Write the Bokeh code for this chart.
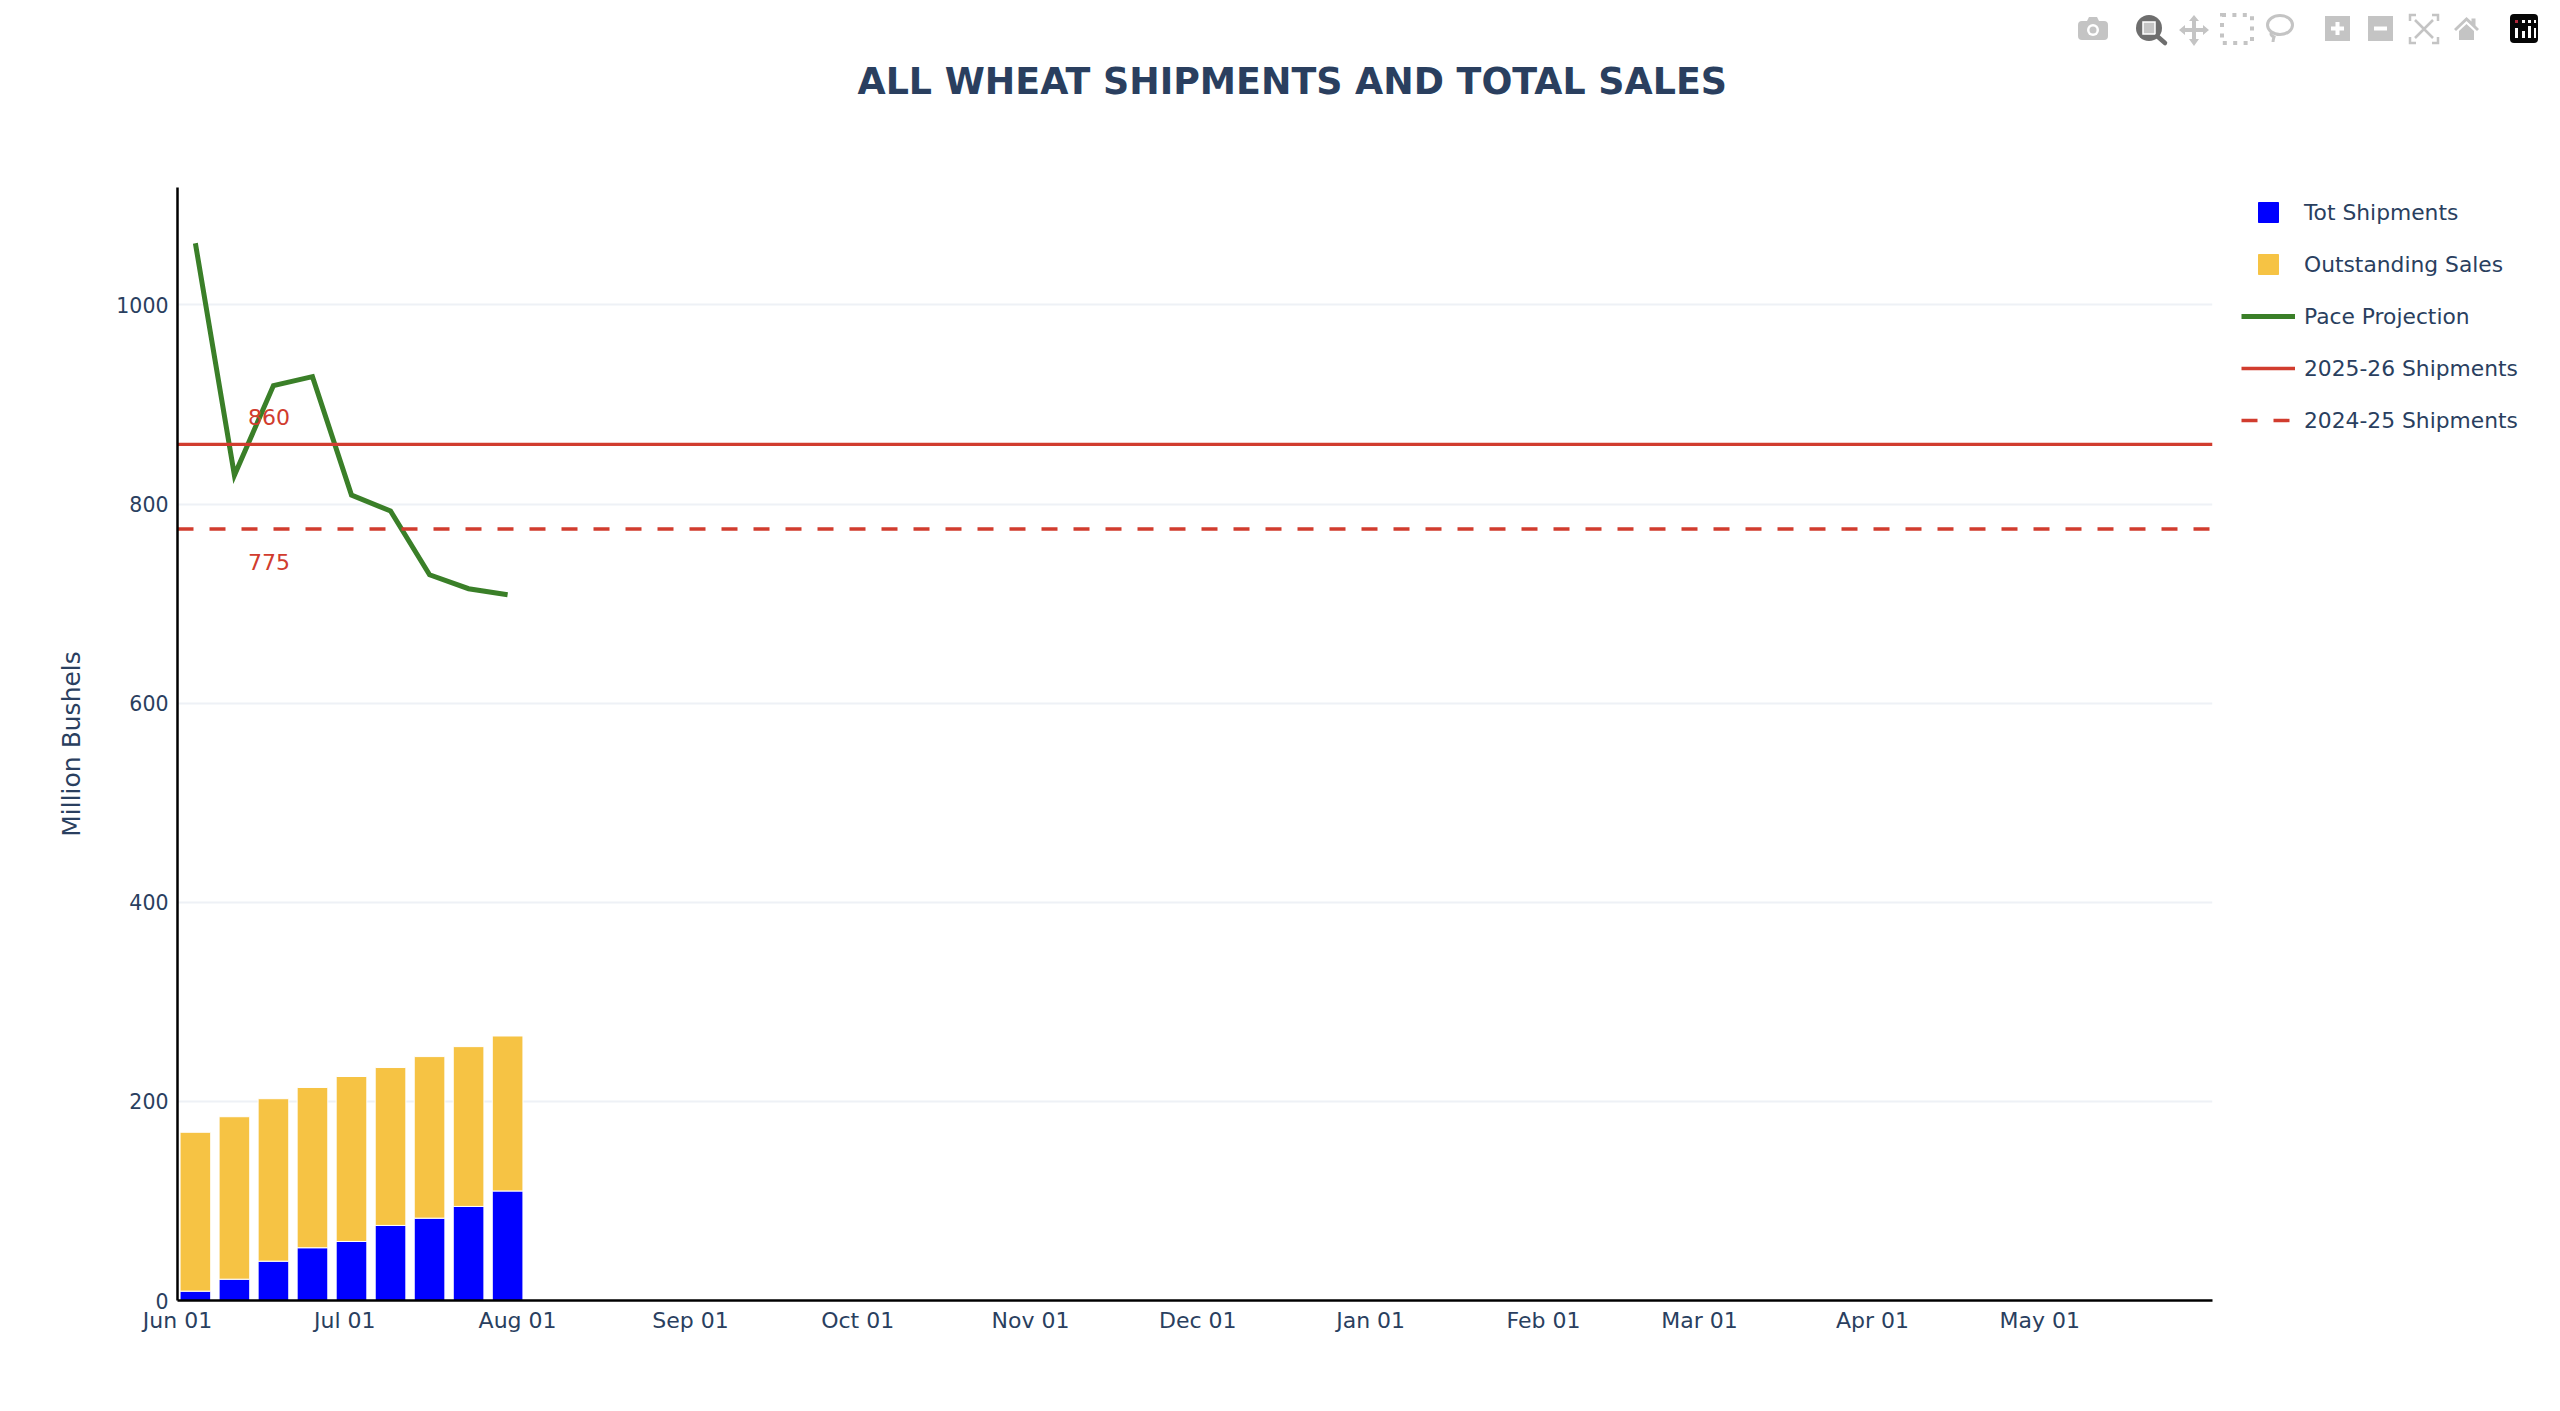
import pandas as pd
from bokeh.embed import file_html
from bokeh.resources import INLINE
from bokeh.layouts import column
from bokeh.core.properties import value
from bokeh.models import (ColumnDataSource, DatetimeTickFormatter, Div, FixedTicker,
                          Legend, LegendItem, Range1d, Title)
from bokeh.plotting import figure

# ---- data ----
title_text = "ALL WHEAT SHIPMENTS AND TOTAL SALES"
y_title = "Million Bushels"
week_dates = ["2025-06-04 05:00", "2025-06-11 05:00", "2025-06-18 05:00", "2025-06-25 05:00", "2025-07-02 05:00",
              "2025-07-09 05:00", "2025-07-16 05:00", "2025-07-23 05:00", "2025-07-30 05:00"]
tot_shipments = [9.4, 21.4, 39.5, 53, 59.3, 75.4, 82.7, 94.5, 110]
outstanding_sales = [159.6, 163.2, 163.2, 161, 165.7, 158.6, 162.3, 160.5, 155.7]
pace_projection = [1062, 829, 919, 928, 809, 793, 729, 715, 709]
shipments_2526 = 860
shipments_2425 = 775
tick_dates = ["2025-06-01", "2025-07-01", "2025-08-01", "2025-09-01", "2025-10-01", "2025-11-01",
              "2025-12-01", "2026-01-01", "2026-02-01", "2026-03-01", "2026-04-01", "2026-05-01"]
y_ticks = [0, 200, 400, 600, 800, 1000]
x_start, x_end = "2025-06-01", "2026-06-01"
y_start, y_end = 0, 1118
label_date = "2025-06-17 10:00"

# ---- styles ----
FONT = "DejaVu Sans"
INK = "#2A3F5F"
BLUE = "#0000FF"
GOLD = "#F6C344"
GREEN = "#3A7F28"
RED = "#D13C2E"
DAY_MS = 86400000


def ts(d):
    return pd.Timestamp(d).to_pydatetime()


def ms(d):
    return int(pd.Timestamp(d).timestamp() * 1000)


x = [ts(d) for d in week_dates]
top = [a + b for a, b in zip(tot_shipments, outstanding_sales)]
src = ColumnDataSource(dict(x=x, ship=tot_shipments, top=top, zero=[0] * len(x), pace=pace_projection))

HEADER_H = 52
p = figure(width=2552, height=1400 - HEADER_H, frame_width=2035, frame_height=1113,
           x_range=Range1d(ts(x_start), ts(x_end)), y_range=Range1d(y_start, y_end),
           x_axis_type="datetime", output_backend="svg", toolbar_location=None,
           min_border_left=177, min_border_right=340, min_border_top=187 - HEADER_H, min_border_bottom=87)
p.outline_line_color = None
p.background_fill_color = "white"

# axes
p.xgrid.visible = False
p.ygrid.grid_line_color = "#EEF1F6"
p.ygrid.grid_line_width = 2
p.ygrid.ticker = FixedTicker(ticks=y_ticks)

yax = p.yaxis[0]
yax.ticker = FixedTicker(ticks=y_ticks)
yax.axis_line_color = "black"
yax.axis_line_width = 2.5
yax.major_tick_line_color = None
yax.minor_tick_line_color = None
yax.major_label_text_font = FONT
yax.major_label_text_font_size = "20.5px"
yax.major_label_text_color = INK
yax.major_label_standoff = 3
yax.axis_label = y_title
yax.axis_label_text_font = FONT
yax.axis_label_text_font_size = "25px"
yax.axis_label_text_font_style = "normal"
yax.axis_label_text_color = INK
yax.axis_label_standoff = 27

xax = p.xaxis[0]
xax.ticker = FixedTicker(ticks=[ms(d) for d in tick_dates])
fmt = "%b %d"
xax.formatter = DatetimeTickFormatter(milliseconds=fmt, seconds=fmt, minsec=fmt, minutes=fmt, hourmin=fmt,
                                      hours=fmt, days=fmt, months=fmt, years=fmt, context=None)
xax.axis_line_color = "black"
xax.axis_line_width = 2.5
xax.major_tick_line_color = None
xax.minor_tick_line_color = None
xax.major_label_text_font = FONT
xax.major_label_text_font_size = "22px"
xax.major_label_text_color = INK
xax.major_label_standoff = 1

# bars
bar_w = 5.5 * DAY_MS
p.vbar(x="x", width=bar_w, bottom="zero", top="ship", source=src, fill_color=BLUE, line_color="white", line_width=1)
p.vbar(x="x", width=bar_w, bottom="ship", top="top", source=src, fill_color=GOLD, line_color="white", line_width=1)

# lines
r_pace = p.line("x", "pace", source=src, line_color=GREEN, line_width=5, line_join="miter")
span = [ts(x_start), ts(x_end)]
r_2526 = p.line(span, [shipments_2526] * 2, line_color=RED, line_width=3.4)
r_2425 = p.line(span, [shipments_2425] * 2, line_color=RED, line_width=3.4, line_dash="16 16")

# value labels
p.text([ts(label_date)], [shipments_2526], text=[str(shipments_2526)], y_offset=-27,
       text_font=value(FONT), text_font_size="22px", text_color=RED, text_align="center", text_baseline="middle")
p.text([ts(label_date)], [shipments_2425], text=[str(shipments_2425)], y_offset=33,
       text_font=value(FONT), text_font_size="22px", text_color=RED, text_align="center", text_baseline="middle")

# legend keys for the bars: square markers without a position of their own
nan = float("nan")
k_ship = p.scatter([nan], [nan], marker="square", fill_color=BLUE, line_color=BLUE)
k_out = p.scatter([nan], [nan], marker="square", fill_color=GOLD, line_color=GOLD)
legend = Legend(items=[LegendItem(label="Tot Shipments", renderers=[k_ship]),
                       LegendItem(label="Outstanding Sales", renderers=[k_out]),
                       LegendItem(label="Pace Projection", renderers=[r_pace]),
                       LegendItem(label="2025-26 Shipments", renderers=[r_2526]),
                       LegendItem(label="2024-25 Shipments", renderers=[r_2425])],
                location=(29, 855), orientation="vertical", padding=0, margin=0, spacing=2,
                glyph_width=54, glyph_height=50, label_standoff=9, label_height=20,
                label_text_font=FONT, label_text_font_size="21.8px", label_text_color=INK,
                border_line_color=None, background_fill_alpha=0)
p.add_layout(legend, "right")

# title, centred on the page rather than on the frame; a blank spacer title lifts it off the frame
p.add_layout(Title(text=" ", text_font_size="1px", standoff=80), "above")
p.title.text = title_text
p.title.align = "left"
p.title.offset = 680
p.title.vertical_align = "top"
p.title.standoff = 0
p.title.text_font = FONT
p.title.text_font_style = "bold"
p.title.text_font_size = "36.4px"
p.title.text_color = INK

# mode bar pictured at the top of the reference (icons only)
G = "#C4C4C4"
icons = f'''
<svg xmlns="http://www.w3.org/2000/svg" width="2552" height="{HEADER_H}" style="display:block">
<g fill="{G}" stroke="none">
 <path d="M2082 21h5l2-4h8l2 4h5a4 4 0 0 1 4 4v11a4 4 0 0 1-4 4h-22a4 4 0 0 1-4-4V25a4 4 0 0 1 4-4z"/>
 <circle cx="2093" cy="30" r="6" fill="white"/><circle cx="2093" cy="30" r="3.5"/>
 <circle cx="2149" cy="28" r="13" fill="#6E6E6E"/><rect x="2143" y="22" width="12" height="12" fill="#C4C4C4" stroke="white" stroke-width="1.5"/>
 <path d="M2157 36l8 7" stroke="#6E6E6E" stroke-width="4.5" stroke-linecap="round" fill="none"/>
 <path d="M2194 15l5 6h-3v7h7v-3l6 5-6 5v-3h-7v7h3l-5 7-5-7h3v-7h-7v3l-6-5 6-5v3h7v-7h-3z"/>
 <path d="M2222 15h30v28h-30z" fill="none" stroke="{G}" stroke-width="4" stroke-dasharray="4 6.4"/>
 <ellipse cx="2280" cy="25" rx="12.5" ry="9.5" fill="none" stroke="{G}" stroke-width="3"/>
 <path d="M2272 32c-3 3 2 5 2 5s-1 3-1 5" fill="none" stroke="{G}" stroke-width="3"/>
 <rect x="2325" y="16" width="25" height="25"/><path d="M2337.500 22v13M2331 28.500h13" stroke="white" stroke-width="4"/>
 <rect x="2368" y="16" width="25" height="25"/><path d="M2374 28.500h13" stroke="white" stroke-width="4"/>
 <path d="M2410 21v-6h6M2432 15h6v6M2438 37v6h-6M2416 43h-6v-6M2415 20l18 18M2433 20l-18 18" fill="none" stroke="{G}" stroke-width="2.500"/>
 <path d="M2454 29l12.500-12 5 4.500v-3h4v7l3.500 3.500-2 2-10.500-10-10.500 10z"/><path d="M2459 31l7.500-7 7.500 7v9h-15z"/>
 <rect x="2510" y="14" width="28" height="29" rx="4" fill="#060606"/>
 <g fill="white"><rect x="2515" y="28" width="3" height="10"/><rect x="2522" y="31" width="3" height="7"/><rect x="2528" y="26" width="3" height="12"/><rect x="2534" y="28" width="2" height="10"/>
 <rect x="2522" y="20" width="3" height="3"/><rect x="2528" y="20" width="3" height="3"/><rect x="2534" y="20" width="2" height="3"/></g>
 <rect x="2515" y="20" width="3" height="3" fill="#B0283C"/>
</g></svg>'''
header = Div(text=icons, width=2552, height=HEADER_H, margin=(0, 0, 0, 0))

page = column(header, p, spacing=0, margin=(0, 0, 0, 0))
open("out.html", "w").write(file_html(page, INLINE))
